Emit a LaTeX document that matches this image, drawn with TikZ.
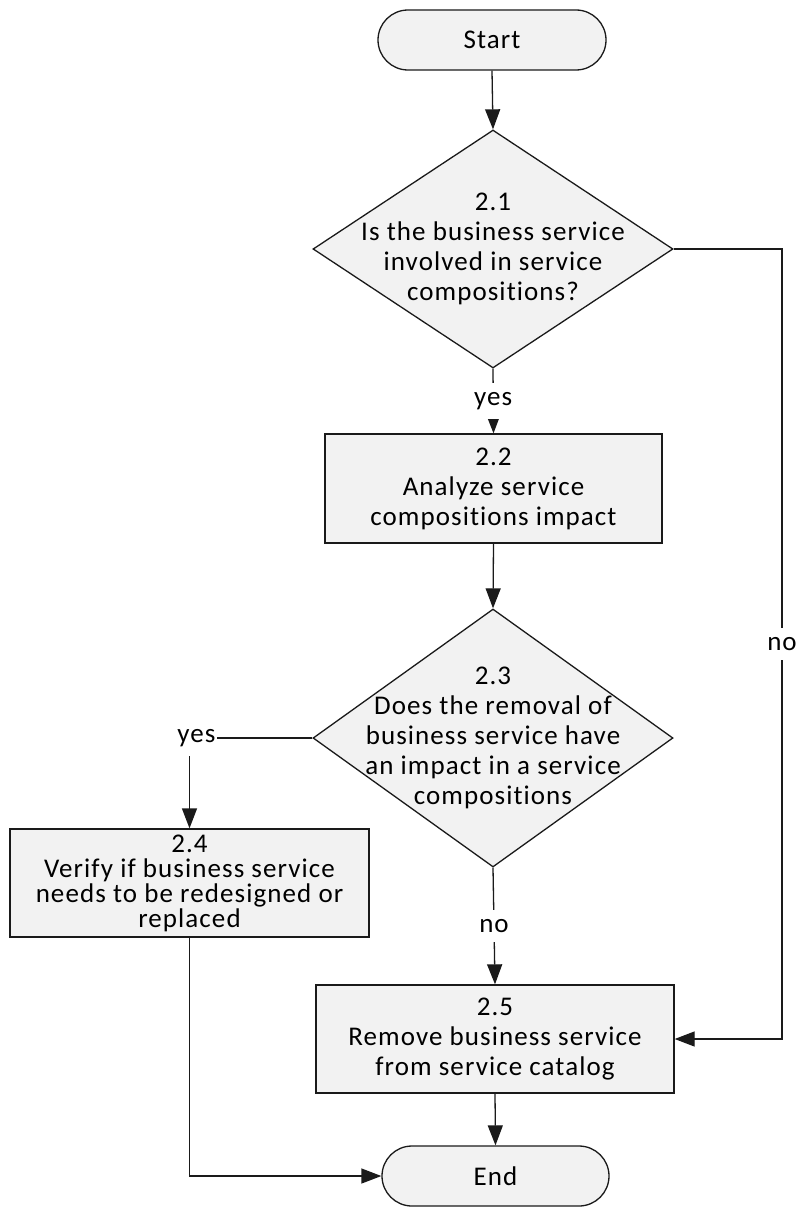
\documentclass[tikz,border=0pt]{standalone}
\usepackage{fontspec}
\setmainfont{Carlito}[LetterSpace=4, Ligatures=NoCommon]
\usetikzlibrary{arrows.meta,shapes.geometric}
\definecolor{shapefill}{HTML}{F2F2F2}
\definecolor{ink}{HTML}{1A1A1A}

\begin{document}
\begin{tikzpicture}[x=1pt,y=-1pt,
  font=\fontsize{27}{30}\selectfont,
  flowline/.style={draw=ink, line width=1.3pt},
  arr/.style={flowline, -{Triangle[length=20pt,width=15pt]}},
  stepbox/.style={rectangle, draw=ink, line width=1.3pt, fill=shapefill,
                  align=center, inner sep=0pt},
  terminal/.style={stepbox, rounded corners=30pt, minimum height=60pt},
  decision/.style={diamond, draw=ink, line width=1.3pt, fill=shapefill,
                   inner sep=0pt, minimum width=360pt},
  dtext/.style={align=center, inner sep=0pt},
  lbl/.style={fill=white, inner xsep=1pt, inner ysep=9pt}
]
\useasboundingbox (0,0) rectangle (799,1207);

% terminals
\node[terminal, minimum width=228pt] (start) at (492,40) {Start};
\node[terminal, minimum width=227pt] (end) at (495.5,1176) {End};

% decisions
\node[decision, minimum height=238pt] (d1) at (493,249) {};
\node[dtext] (d1t) at (d1) {2.1\\Is the business service\\involved in service\\compositions?};

\node[decision, minimum height=258pt] (d3) at (493,738) {};
\node[dtext] (d3t) at (d3) {2.3\\Does the removal of\\business service have\\an impact in a service\\compositions};

% process steps
\node[stepbox, minimum width=337pt, minimum height=109pt] (b22) at (493.5,488.5)
  {2.2\\Analyze service\\compositions impact};
\node[stepbox, minimum width=359pt, minimum height=108pt,
      font=\fontsize{27}{25}\selectfont] (b24) at (189.5,883)
  {2.4\\Verify if business service\\needs to be redesigned or\\replaced};
\node[stepbox, minimum width=358pt, minimum height=108pt] (b25) at (495,1039)
  {2.5\\Remove business service\\from service catalog};

\coordinate (rturn) at (782,249);

% connectors
\draw[arr] (start.south) -- (d1.north);
\draw[arr] (d1.south) -- node[lbl]{yes} (b22.north);
\draw[arr] (b22.south) -- (d3.north);
\draw[arr] (d3.west) -| node[lbl, pos=0.5, xshift=7pt]{yes} (b24.north);
\draw[arr] (d3.south) -- node[lbl]{no} (b25.north);
\draw[arr] (d1.east) -- (rturn) |- node[lbl, pos=0.25]{no} (b25.east);
\draw[arr] (b25.south) -- (end.north);
\draw[arr] (b24.south) |- (end.west);
\end{tikzpicture}
\end{document}
